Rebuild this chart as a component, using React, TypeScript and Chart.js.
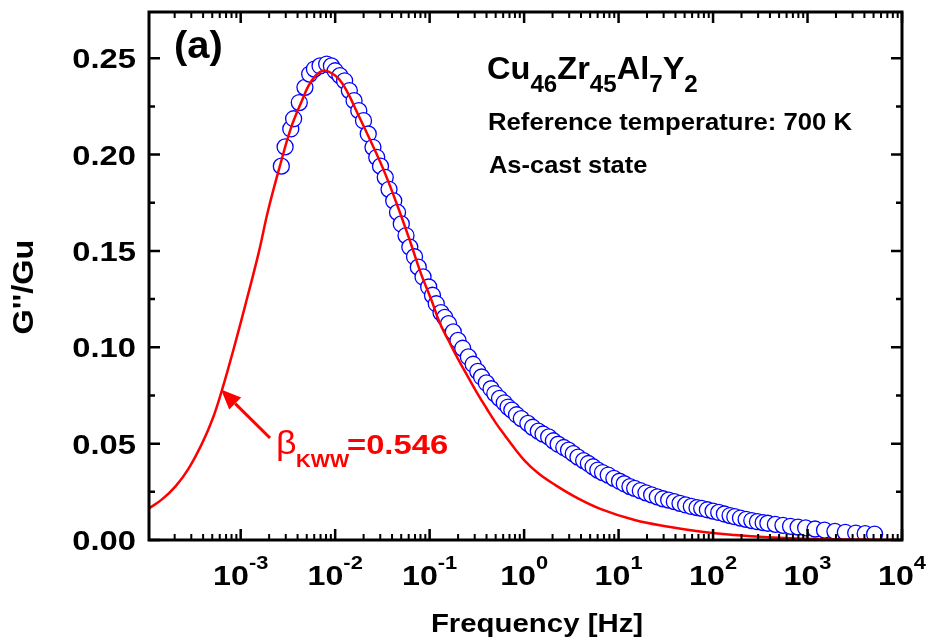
import React, { useEffect, useRef } from 'react';
import { Chart, registerables } from 'chart.js';

Chart.register(...registerables);

// ---------- data ----------
const X_MIN = 1.07e-4;
const X_MAX = 1e4;
const Y_MIN = 0;
const Y_MAX = 0.274;

// measured master curve: log10(frequency / Hz) and G''/Gu
const blueLogF = [
  -2.57, -2.53, -2.47, -2.44, -2.38, -2.32, -2.27, -2.22, -2.16, -2.09,
  -2.04, -2.0, -1.95, -1.9, -1.85, -1.8, -1.75, -1.7, -1.65, -1.6,
  -1.56, -1.52, -1.47, -1.43, -1.38, -1.34, -1.3, -1.25, -1.21, -1.16,
  -1.12, -1.07, -1.01, -0.97, -0.93, -0.88, -0.84, -0.8, -0.75, -0.7,
  -0.65, -0.59, -0.54, -0.49, -0.45, -0.4, -0.35, -0.31, -0.26, -0.21,
  -0.17, -0.13, -0.08, -0.03, 0.04, 0.09, 0.15, 0.2, 0.26, 0.31,
  0.36, 0.42, 0.47, 0.52, 0.57, 0.63, 0.68, 0.73, 0.78, 0.83,
  0.89, 0.95, 1.01, 1.06, 1.12, 1.17, 1.23, 1.29, 1.35, 1.41,
  1.47, 1.53, 1.59, 1.65, 1.71, 1.77, 1.83, 1.88, 1.94, 2.0,
  2.06, 2.12, 2.18, 2.23, 2.29, 2.35, 2.41, 2.47, 2.53, 2.58,
  2.66, 2.74, 2.82, 2.9, 2.98, 3.08, 3.18, 3.29, 3.4, 3.51,
  3.61, 3.71,
];
const blueG = [
  0.194, 0.204, 0.2133, 0.2186, 0.227, 0.2349, 0.2418, 0.2444, 0.246, 0.247,
  0.246, 0.2435, 0.241, 0.2383, 0.2332, 0.228, 0.2228, 0.2176, 0.2107, 0.2038,
  0.1986, 0.194, 0.1882, 0.182, 0.176, 0.17, 0.164, 0.158, 0.152, 0.147,
  0.1416, 0.1365, 0.1313, 0.127, 0.1226, 0.118, 0.1155, 0.1123, 0.108, 0.1036,
  0.0995, 0.095, 0.0912, 0.0875, 0.0846, 0.0815, 0.0785, 0.076, 0.0735, 0.0712,
  0.069, 0.0674, 0.065, 0.063, 0.0605, 0.0585, 0.0565, 0.055, 0.0535, 0.0515,
  0.0497, 0.048, 0.0466, 0.0448, 0.043, 0.0412, 0.0397, 0.038, 0.0363, 0.035,
  0.0337, 0.032, 0.0305, 0.0292, 0.0277, 0.0268, 0.0256, 0.0245, 0.0234, 0.0224,
  0.0214, 0.0207, 0.0199, 0.019, 0.0182, 0.0174, 0.0168, 0.0164, 0.0157, 0.015,
  0.0143, 0.0135, 0.0127, 0.0121, 0.0114, 0.0107, 0.0101, 0.0095, 0.009, 0.0087,
  0.0081, 0.0076, 0.0071, 0.0067, 0.0063, 0.0057, 0.0051, 0.0045, 0.004, 0.0036,
  0.0033, 0.003,
];

// KWW fit curve (beta = 0.546)
const redLogF = [
  -3.97, -3.83, -3.69, -3.55, -3.41, -3.3, -3.2, -3.07, -2.94, -2.81,
  -2.71, -2.58, -2.47, -2.36, -2.25, -2.13, -2.0, -1.9, -1.76, -1.61,
  -1.47, -1.33, -1.2, -1.09, -0.98, -0.89, -0.8, -0.7, -0.6, -0.5,
  -0.4, -0.3, -0.2, -0.1, 0.0, 0.15, 0.33, 0.54, 0.82, 1.17,
  1.53, 1.88, 2.23, 2.58, 2.94, 3.5, 4.0,
];
const redG = [
  0.0164, 0.0212, 0.0278, 0.0372, 0.05, 0.0625, 0.0775, 0.1, 0.124, 0.149,
  0.171, 0.195, 0.2135, 0.227, 0.2383, 0.2435, 0.241, 0.235, 0.2211, 0.2055,
  0.19, 0.172, 0.154, 0.138, 0.1244, 0.1123, 0.1035, 0.094, 0.0852, 0.0765,
  0.0685, 0.0608, 0.054, 0.0475, 0.0415, 0.0346, 0.0285, 0.0224, 0.0159, 0.0104,
  0.0069, 0.0043, 0.0026, 0.0014, 0.0007, 0.0002, 0.0,
];

const xTickExponents = [-3, -2, -1, 0, 1, 2, 3, 4];
const yMajorTicks = [0, 0.05, 0.1, 0.15, 0.2, 0.25];
const yTickLabels = ['0.00', '0.05', '0.10', '0.15', '0.20', '0.25'];
const yMinorTicks = [0.025, 0.075, 0.125, 0.175, 0.225];

const xTitle = 'Frequency [Hz]';
const yTitle = "G''/Gu";
const panelLabel = '(a)';
const formulaRuns: [string, boolean][] = [
  ['Cu', false], ['46', true], ['Zr', false], ['45', true],
  ['Al', false], ['7', true], ['Y', false], ['2', true],
];
const refTempText = 'Reference temperature: 700 K';
const stateText = 'As-cast state';
const betaValue = '=0.546';

// ---------- drawing helpers ----------
const FONT = '"Liberation Sans", Arial, Helvetica, sans-serif';

type TextOpts = {
  weight?: string;
  color?: string;
  align?: 'left' | 'center' | 'right';
  sx?: number;
  rotate?: number;
};

function drawText(
  ctx: CanvasRenderingContext2D,
  text: string,
  x: number,
  y: number,
  size: number,
  opts: TextOpts = {}
): number {
  const { weight = 'bold', color = '#000', align = 'left', sx = 1, rotate = 0 } = opts;
  ctx.save();
  ctx.font = `${weight} ${size}px ${FONT}`;
  ctx.fillStyle = color;
  ctx.textBaseline = 'alphabetic';
  ctx.textAlign = 'left';
  const w = ctx.measureText(text).width * sx;
  const dx = align === 'center' ? -w / 2 : align === 'right' ? -w : 0;
  ctx.translate(x, y);
  if (rotate) ctx.rotate(rotate);
  ctx.scale(sx, 1);
  ctx.fillText(text, dx / sx, 0);
  ctx.restore();
  return w;
}

function measure(ctx: CanvasRenderingContext2D, text: string, size: number, weight = 'bold', sx = 1) {
  ctx.save();
  ctx.font = `${weight} ${size}px ${FONT}`;
  const w = ctx.measureText(text).width * sx;
  ctx.restore();
  return w;
}

const decorPlugin = {
  id: 'decor',
  afterDraw(chart: any) {
    const { ctx, chartArea: a, scales } = chart;
    const xs = scales.x;
    const ys = scales.y;
    ctx.save();

    // ----- tick marks (inward, all four sides) -----
    ctx.strokeStyle = '#000';
    ctx.lineCap = 'butt';
    const majorLen = 11;
    const minorLen = 6;
    const drawX = (v: number, len: number, lw: number) => {
      const px = xs.getPixelForValue(v);
      ctx.lineWidth = lw;
      ctx.beginPath();
      ctx.moveTo(px, a.bottom);
      ctx.lineTo(px, a.bottom - len);
      ctx.moveTo(px, a.top);
      ctx.lineTo(px, a.top + len);
      ctx.stroke();
    };
    for (let e = -4; e <= 4; e++) {
      for (let m = 1; m <= 9; m++) {
        const v = m * Math.pow(10, e);
        if (v < X_MIN * 0.999 || v > X_MAX * 1.001) continue;
        if (m === 1) drawX(v, majorLen, 2.5);
        else drawX(v, minorLen, 2);
      }
    }
    const drawY = (v: number, len: number, lw: number) => {
      const py = ys.getPixelForValue(v);
      ctx.lineWidth = lw;
      ctx.beginPath();
      ctx.moveTo(a.left, py);
      ctx.lineTo(a.left + len, py);
      ctx.moveTo(a.right, py);
      ctx.lineTo(a.right - len, py);
      ctx.stroke();
    };
    yMajorTicks.forEach((v) => drawY(v, majorLen, 2.5));
    yMinorTicks.forEach((v) => drawY(v, minorLen, 2.5));

    // ----- frame -----
    ctx.lineWidth = 3;
    ctx.strokeRect(a.left, a.top, a.right - a.left, a.bottom - a.top);

    // ----- y tick labels -----
    yMajorTicks.forEach((v, i) => {
      const py = ys.getPixelForValue(v);
      drawText(ctx, yTickLabels[i], a.left - 13, py + 10, 28, { align: 'right', sx: 1.17 });
    });

    // ----- x tick labels: 10^n -----
    const baseSize = 28;
    const supSize = 19;
    const lsx = 1.15;
    xTickExponents.forEach((e) => {
      const px = xs.getPixelForValue(Math.pow(10, e));
      const sup = String(e);
      const w1 = measure(ctx, '10', baseSize, 'bold', lsx);
      const w2 = measure(ctx, sup, supSize, 'bold', lsx);
      const start = px - (w1 + w2) / 2;
      drawText(ctx, '10', start, a.bottom + 45, baseSize, { sx: lsx });
      drawText(ctx, sup, start + w1, a.bottom + 29, supSize, { sx: lsx });
    });

    // ----- axis titles -----
    drawText(ctx, xTitle, 537, 632, 26, { align: 'center', sx: 1.13 });
    drawText(ctx, yTitle, 33, 287, 29, { align: 'center', sx: 1.12, rotate: -Math.PI / 2 });

    // ----- panel label -----
    drawText(ctx, panelLabel, 174, 58, 38, { sx: 1.05 });

    // ----- formula -----
    let fx = 487;
    formulaRuns.forEach(([t, sub]) => {
      const w = drawText(ctx, t, fx, sub ? 92 : 79, sub ? 23 : 31, { sx: 1.05 });
      fx += w;
    });
    drawText(ctx, refTempText, 488, 130, 24, { sx: 1.07 });
    drawText(ctx, stateText, 489, 173, 24, { sx: 1.06 });

    // ----- beta annotation with arrow -----
    const red = '#ff0000';
    drawText(ctx, '\u03B2', 276, 454, 34, { weight: 'normal', color: red, sx: 1.05 });
    drawText(ctx, 'KWW', 296, 467, 18, { color: red, sx: 1.13 });
    drawText(ctx, betaValue, 347, 454, 28, { color: red, sx: 1.17 });

    const tipX = 221;
    const tipY = 389.5;
    const tailX = 270;
    const tailY = 438;
    const ang = Math.atan2(tailY - tipY, tailX - tipX);
    const headLen = 20;
    const headHalf = 8.5;
    const bx = tipX + headLen * Math.cos(ang);
    const by = tipY + headLen * Math.sin(ang);
    ctx.strokeStyle = red;
    ctx.fillStyle = red;
    ctx.lineWidth = 3;
    ctx.beginPath();
    ctx.moveTo(tailX, tailY);
    ctx.lineTo(bx, by);
    ctx.stroke();
    ctx.beginPath();
    ctx.moveTo(tipX, tipY);
    ctx.lineTo(bx - headHalf * Math.sin(ang), by + headHalf * Math.cos(ang));
    ctx.lineTo(bx + headHalf * Math.sin(ang), by - headHalf * Math.cos(ang));
    ctx.closePath();
    ctx.fill();

    ctx.restore();
  },
};

export default function App() {
  const canvasRef = useRef<HTMLCanvasElement | null>(null);

  useEffect(() => {
    const canvas = canvasRef.current;
    if (!canvas) return;
    const blueData = blueLogF.map((l, i) => ({ x: Math.pow(10, l), y: blueG[i] }));
    const redData = redLogF.map((l, i) => ({ x: Math.pow(10, l), y: redG[i] }));

    const chart = new Chart(canvas, {
      type: 'scatter',
      data: {
        datasets: [
          {
            label: 'KWW fit',
            data: redData,
            showLine: true,
            borderColor: '#ff0000',
            borderWidth: 2.5,
            pointRadius: 0,
            tension: 0.4,
            order: 0,
          } as any,
          {
            label: 'Experiment',
            data: blueData,
            showLine: false,
            pointStyle: 'circle',
            pointRadius: 8,
            pointBorderWidth: 1.3,
            pointBorderColor: '#0000ff',
            pointBackgroundColor: '#ffffff',
            order: 1,
          } as any,
        ],
      },
      options: {
        animation: false,
        responsive: false,
        maintainAspectRatio: false,
        events: [],
        layout: { padding: { left: 149, right: 26, top: 12, bottom: 104 } },
        plugins: {
          legend: { display: false },
          tooltip: { enabled: false },
        },
        scales: {
          x: { type: 'logarithmic', min: X_MIN, max: X_MAX, display: false },
          y: { type: 'linear', min: Y_MIN, max: Y_MAX, display: false },
        },
      },
      plugins: [decorPlugin],
    });
    return () => chart.destroy();
  }, []);

  return (
    <div style={{ position: 'fixed', left: 0, top: 0, width: 928, height: 644, background: '#fff' }}>
      <canvas ref={canvasRef} width={928} height={644} style={{ display: 'block' }} />
    </div>
  );
}
